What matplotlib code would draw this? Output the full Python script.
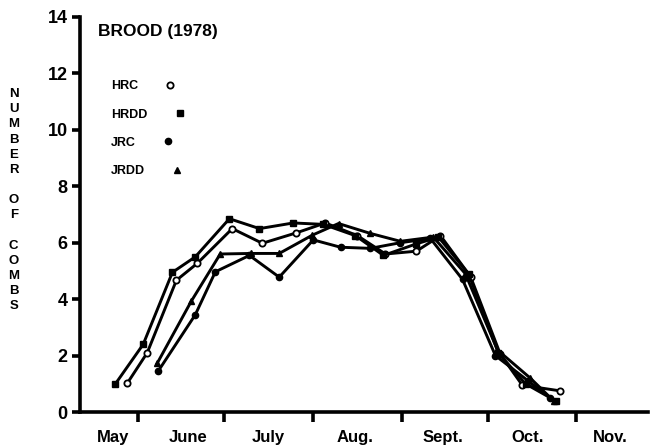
import numpy as np
import matplotlib
matplotlib.use("Agg")
import matplotlib.pyplot as plt
from matplotlib.transforms import blended_transform_factory

plt.rcParams['font.family'] = ['Liberation Sans', 'DejaVu Sans']
plt.rcParams['font.weight'] = 'bold'

# days counted from May 1 (June 1 = 31)
hrc_days = [27.2, 34.1, 44.3, 51.6, 63.8, 74.3, 86.2, 96.3, 107.5, 117.3, 128.1, 136.5, 147.0, 157.4, 165.1, 178.4]
hrc_vals = [1.03, 2.1, 4.67, 5.27, 6.5, 5.98, 6.35, 6.7, 6.25, 5.6, 5.7, 6.25, 4.8, 2.05, 0.95, 0.75]

hrdd_days = [23.0, 32.7, 42.9, 50.9, 62.8, 73.3, 85.1, 95.6, 106.8, 116.6, 127.8, 135.8, 146.3, 156.7, 166.2, 176.7]
hrdd_vals = [1.0, 2.4, 4.95, 5.5, 6.85, 6.5, 6.7, 6.65, 6.25, 5.55, 5.95, 6.2, 4.9, 2.1, 1.0, 0.4]

jrc_days = [38.0, 50.9, 57.9, 69.8, 80.2, 92.1, 101.6, 112.0, 122.5, 133.0, 144.2, 155.7, 167.2, 174.9]
jrc_vals = [1.46, 3.45, 4.97, 5.55, 4.78, 6.1, 5.84, 5.8, 6.0, 6.15, 4.7, 2.0, 1.1, 0.5]

jrdd_days = [37.6, 49.5, 59.6, 70.5, 80.2, 91.8, 100.9, 112.0, 122.5, 134.0, 145.2, 156.4, 167.9, 176.0]
jrdd_vals = [1.73, 3.93, 5.6, 5.62, 5.62, 6.27, 6.68, 6.33, 6.05, 6.2, 4.9, 2.2, 1.2, 0.4]

month_edges = [31, 61, 92, 123, 153, 184]
month_names = ["May", "June", "July", "Aug.", "Sept.", "Oct.", "Nov."]
month_pos = [22.3, 48.5, 76.4, 106.8, 137.5, 166.9, 195.9]
y_ticks = [0, 2, 4, 6, 8, 10, 12, 14]

fig = plt.figure(figsize=(6.52, 4.45), dpi=100)
ax = fig.add_axes([0.123, 0.074, 0.871, 0.888])

lw = 2.1
ax.plot(hrc_days, hrc_vals, '-o', color='black', lw=lw, ms=4.5,
        mfc='white', mec='black', mew=1.3, label='HRC')
ax.plot(hrdd_days, hrdd_vals, '-s', color='black', lw=lw, ms=4, label='HRDD')
ax.plot(jrc_days, jrc_vals, '-o', color='black', lw=lw, ms=4.5, label='JRC')
ax.plot(jrdd_days, jrdd_vals, '-^', color='black', lw=lw, ms=4, label='JRDD')

ax.set_xlim(10.7, 209)
ax.set_ylim(0, 14)

for s in ['top', 'right']:
    ax.spines[s].set_visible(False)
for s in ['left', 'bottom']:
    ax.spines[s].set_linewidth(2.6)

ax.set_yticks(y_ticks)
ax.set_yticklabels([str(v) for v in y_ticks], fontsize=13, fontweight='bold')
ax.tick_params(axis='y', length=6, width=2.6, pad=3)
ax.set_xticks(month_edges)
ax.set_xticklabels([])
ax.tick_params(axis='x', length=7, width=2.6, direction='out')

trans = blended_transform_factory(ax.transData, ax.transAxes)
for name, pos in zip(month_names, month_pos):
    ax.text(pos, -0.065, name, transform=trans, ha='center', va='center',
            fontsize=12, fontweight='bold')

ax.text(17.0, 13.5, "BROOD (1978)", ha='left', va='center',
        fontsize=12.5, fontweight='bold')

leg = ax.legend(loc='upper left', bbox_to_anchor=(0.035, 0.868), frameon=False,
                markerfirst=False, handlelength=0.9, handletextpad=2.1,
                labelspacing=1.3, prop={'size': 9, 'weight': 'bold'})
for h in leg.legend_handles:
    h.set_linestyle('None')
# labels left aligned, markers in a column to the right
for col in leg._legend_handle_box.get_children():
    col.align = 'left'

fig.text(0.021, 0.55, "\n".join("NUMBER OF COMBS"), ha='center', va='center',
         fontsize=9.5, fontweight='bold', linespacing=1.35)

fig.savefig("out.png", dpi=100)
